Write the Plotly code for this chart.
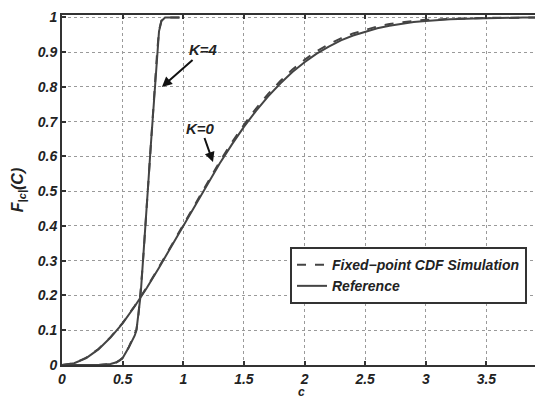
import plotly.graph_objects as go

# K=0 curves
c_k0 = [0, 0.1, 0.2, 0.3, 0.4, 0.5, 0.6, 0.7, 0.8, 0.9, 1.0, 1.1, 1.2, 1.3, 1.4, 1.5,
        1.6, 1.7, 1.8, 1.9, 2.0, 2.1, 2.2, 2.3, 2.4, 2.5, 2.6, 2.7, 2.8, 2.9, 3.0,
        3.2, 3.4, 3.6, 3.8, 4.0]
ref_k0 = [0, 0.005, 0.020, 0.045, 0.079, 0.120, 0.169, 0.222, 0.280, 0.340, 0.401,
          0.462, 0.522, 0.580, 0.634, 0.685, 0.731, 0.773, 0.810, 0.843, 0.871,
          0.896, 0.916, 0.934, 0.948, 0.959, 0.969, 0.976, 0.982, 0.987, 0.990,
          0.995, 0.997, 0.999, 0.9995, 1.0]
sim_k0 = [0, 0.005, 0.021, 0.046, 0.080, 0.121, 0.170, 0.224, 0.282, 0.343, 0.404,
          0.466, 0.526, 0.585, 0.640, 0.691, 0.738, 0.780, 0.817, 0.850, 0.878,
          0.903, 0.923, 0.940, 0.954, 0.965, 0.974, 0.981, 0.986, 0.990, 0.993,
          0.996, 0.998, 0.999, 1.0, 1.0]

# K=4 curves
c_k4 = [0, 0.30, 0.40, 0.45, 0.48, 0.50, 0.55, 0.60, 0.614, 0.63, 0.648, 0.66,
        0.675, 0.69, 0.70, 0.713, 0.73, 0.746, 0.763, 0.785, 0.80, 0.82, 0.85, 0.97]
ref_k4 = [0, 0, 0.003, 0.008, 0.014, 0.02, 0.05, 0.085, 0.10, 0.14, 0.20, 0.26,
          0.33, 0.41, 0.46, 0.53, 0.62, 0.70, 0.79, 0.90, 0.96, 0.99, 1.0, 1.0]
sim_k4 = [0, 0, 0.003, 0.008, 0.015, 0.021, 0.051, 0.087, 0.102, 0.142, 0.203, 0.263,
          0.334, 0.414, 0.464, 0.534, 0.624, 0.704, 0.794, 0.903, 0.962, 0.991, 1.0, 1.0]

x_ticks = [0, 0.5, 1, 1.5, 2, 2.5, 3, 3.5]
y_ticks = [0, 0.1, 0.2, 0.3, 0.4, 0.5, 0.6, 0.7, 0.8, 0.9, 1]
y_tick_text = ["0", "0.1", "0.2", "0.3", "0.4", "0.5", "0.6", "0.7", "0.8", "0.9", "1"]

line_col = "#444444"
FONT = "Liberation Sans, Arial, sans-serif"

fig = go.Figure()
fig.add_trace(go.Scatter(x=c_k0, y=sim_k0, mode="lines", name="Fixed\u2212point CDF Simulation",
                         line=dict(color=line_col, width=2, dash="dash"), showlegend=True))
fig.add_trace(go.Scatter(x=c_k0, y=ref_k0, mode="lines", name="Reference",
                         line=dict(color=line_col, width=2), showlegend=True))
fig.add_trace(go.Scatter(x=c_k4, y=sim_k4, mode="lines", name="sim K4",
                         line=dict(color=line_col, width=2, dash="dash"), showlegend=False))
fig.add_trace(go.Scatter(x=c_k4, y=ref_k4, mode="lines", name="ref K4",
                         line=dict(color=line_col, width=2), showlegend=False))

tickfont = dict(family=FONT, size=14, color="#222", weight="bold", style="italic")
axis_common = dict(showline=True, linecolor="#333", linewidth=2, mirror="ticks",
                   ticks="inside", ticklen=4, tickcolor="#333", tickwidth=1.5,
                   showgrid=True, gridcolor="#9a9a9a", gridwidth=1, griddash="dot",
                   zeroline=False, tickfont=tickfont, automargin=False)

fig.update_xaxes(range=[0, 3.95], tickvals=x_ticks,
                 ticktext=[str(v) for v in x_ticks], **axis_common)
fig.update_yaxes(range=[0, 1.007], tickvals=y_ticks, ticktext=y_tick_text,
                 title=dict(text="F<sub>|c|</sub>(C)", standoff=10,
                            font=dict(family=FONT, size=16, color="#222", weight="bold", style="italic")),
                 **axis_common)

fig.add_annotation(x=0.824, y=0.80, ax=42, ay=-37, text="K=4", showarrow=True,
                   arrowhead=2, arrowsize=1, arrowwidth=2, arrowcolor="#111",
                   font=dict(family=FONT, size=15, color="#222", weight="bold", style="italic"))
fig.add_annotation(x=1.245, y=0.584, ax=-12, ay=-34, text="K=0", showarrow=True,
                   arrowhead=2, arrowsize=1, arrowwidth=2, arrowcolor="#111",
                   font=dict(family=FONT, size=15, color="#222", weight="bold", style="italic"))
fig.add_annotation(x=0.5, y=-0.055, xref="paper", yref="paper", yanchor="top", showarrow=False,
                   text="c", borderpad=0,
                   font=dict(family=FONT, size=12, color="#222", weight="bold", style="italic"))

# page body adds an 8px offset; the figure is sized to fill the rest of the window
fig.update_layout(
    width=535, height=390,
    margin=dict(l=54, r=2, t=7, b=33),
    paper_bgcolor="white", plot_bgcolor="white",
    legend=dict(x=0.476, y=0.337, xanchor="left", yanchor="top",
                bgcolor="white", bordercolor="#333", borderwidth=2,
                font=dict(family=FONT, size=14, color="#222", weight="bold", style="italic"),
                tracegroupgap=0, itemwidth=30),
)

fig.write_html("out.html")
